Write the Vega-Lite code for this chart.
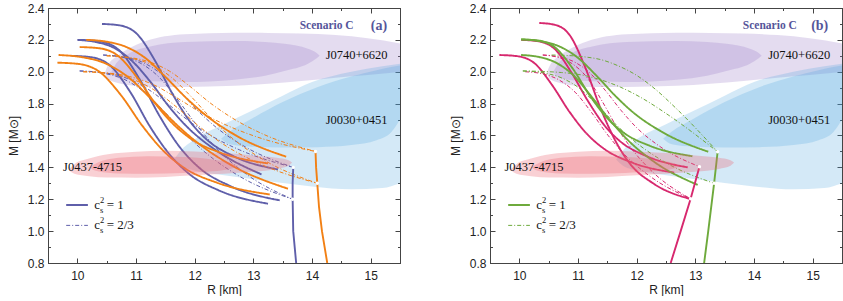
{
"$schema":"https://vega.github.io/schema/vega-lite/v6.json",
"background":"white",
"padding":{"left":6,"top":1,"right":0,"bottom":0},
"bounds":"flush",
"spacing":90,
"config":{"view":{"stroke":"#444","strokeWidth":1},"axis":{"domainColor":"#444","tickColor":"#444","labelFont":"Liberation Sans","labelFontSize":12,"labelColor":"#222","titleFont":"Liberation Sans","titleFontSize":12,"titleFontWeight":"normal","titleColor":"#222","grid":false,"labelFlush":false,"labelOverlap":false,"domainWidth":1,"tickWidth":1}},
"datasets":{
"cur":[
{"p":"a","id":"b1","s":"blue","st":"solid","i":0,"x":10.42,"y":2.3},{"p":"a","id":"b1","s":"blue","st":"solid","i":1,"x":10.72,"y":2.291},{"p":"a","id":"b1","s":"blue","st":"solid","i":2,"x":11.02,"y":2.236},{"p":"a","id":"b1","s":"blue","st":"solid","i":3,"x":11.32,"y":2.072},{"p":"a","id":"b1","s":"blue","st":"solid","i":4,"x":11.62,"y":1.862},{"p":"a","id":"b1","s":"blue","st":"solid","i":5,"x":11.92,"y":1.688},{"p":"a","id":"b1","s":"blue","st":"solid","i":6,"x":12.22,"y":1.57},{"p":"a","id":"b1","s":"blue","st":"solid","i":7,"x":12.67,"y":1.469},{"p":"a","id":"b1","s":"blue","st":"solid","i":8,"x":13.42,"y":1.387},
{"p":"a","id":"b2","s":"blue","st":"solid","i":0,"x":10.0,"y":2.2},{"p":"a","id":"b2","s":"blue","st":"solid","i":1,"x":10.31,"y":2.187},{"p":"a","id":"b2","s":"blue","st":"solid","i":2,"x":10.63,"y":2.149},{"p":"a","id":"b2","s":"blue","st":"solid","i":3,"x":10.94,"y":2.065},{"p":"a","id":"b2","s":"blue","st":"solid","i":4,"x":11.26,"y":1.93},{"p":"a","id":"b2","s":"blue","st":"solid","i":5,"x":11.57,"y":1.778},{"p":"a","id":"b2","s":"blue","st":"solid","i":6,"x":11.88,"y":1.651},{"p":"a","id":"b2","s":"blue","st":"solid","i":7,"x":12.36,"y":1.508},{"p":"a","id":"b2","s":"blue","st":"solid","i":8,"x":13.14,"y":1.356},
{"p":"a","id":"b3","s":"blue","st":"solid","i":0,"x":9.9,"y":2.1},{"p":"a","id":"b3","s":"blue","st":"solid","i":1,"x":10.24,"y":2.091},{"p":"a","id":"b3","s":"blue","st":"solid","i":2,"x":10.57,"y":2.035},{"p":"a","id":"b3","s":"blue","st":"solid","i":3,"x":10.91,"y":1.868},{"p":"a","id":"b3","s":"blue","st":"solid","i":4,"x":11.24,"y":1.655},{"p":"a","id":"b3","s":"blue","st":"solid","i":5,"x":11.58,"y":1.478},{"p":"a","id":"b3","s":"blue","st":"solid","i":6,"x":11.91,"y":1.358},{"p":"a","id":"b3","s":"blue","st":"solid","i":7,"x":12.41,"y":1.256},{"p":"a","id":"b3","s":"blue","st":"solid","i":8,"x":13.25,"y":1.172},
{"p":"a","id":"b4","s":"blue","st":"solid","i":0,"x":10.05,"y":2.2},{"p":"a","id":"b4","s":"blue","st":"solid","i":1,"x":10.39,"y":2.19},{"p":"a","id":"b4","s":"blue","st":"solid","i":2,"x":10.73,"y":2.129},{"p":"a","id":"b4","s":"blue","st":"solid","i":3,"x":11.07,"y":1.948},{"p":"a","id":"b4","s":"blue","st":"solid","i":4,"x":11.41,"y":1.717},{"p":"a","id":"b4","s":"blue","st":"solid","i":5,"x":11.75,"y":1.525},{"p":"a","id":"b4","s":"blue","st":"solid","i":6,"x":12.09,"y":1.394},{"p":"a","id":"b4","s":"blue","st":"solid","i":7,"x":12.6,"y":1.284},{"p":"a","id":"b4","s":"blue","st":"solid","i":8,"x":13.45,"y":1.193},
{"p":"a","id":"bd1","s":"blue","st":"dash","i":0,"x":10.44,"y":2.105},{"p":"a","id":"bd1","s":"blue","st":"dash","i":1,"x":10.76,"y":2.094},{"p":"a","id":"bd1","s":"blue","st":"dash","i":2,"x":11.09,"y":2.063},{"p":"a","id":"bd1","s":"blue","st":"dash","i":3,"x":11.41,"y":1.992},{"p":"a","id":"bd1","s":"blue","st":"dash","i":4,"x":11.74,"y":1.879},{"p":"a","id":"bd1","s":"blue","st":"dash","i":5,"x":12.06,"y":1.753},{"p":"a","id":"bd1","s":"blue","st":"dash","i":6,"x":12.38,"y":1.647},{"p":"a","id":"bd1","s":"blue","st":"dash","i":7,"x":12.87,"y":1.527},{"p":"a","id":"bd1","s":"blue","st":"dash","i":8,"x":13.68,"y":1.4},
{"p":"a","id":"bd2","s":"blue","st":"dash","i":0,"x":10.04,"y":2.005},{"p":"a","id":"bd2","s":"blue","st":"dash","i":1,"x":10.4,"y":1.993},{"p":"a","id":"bd2","s":"blue","st":"dash","i":2,"x":10.77,"y":1.957},{"p":"a","id":"bd2","s":"blue","st":"dash","i":3,"x":11.13,"y":1.876},{"p":"a","id":"bd2","s":"blue","st":"dash","i":4,"x":11.49,"y":1.747},{"p":"a","id":"bd2","s":"blue","st":"dash","i":5,"x":11.86,"y":1.603},{"p":"a","id":"bd2","s":"blue","st":"dash","i":6,"x":12.22,"y":1.482},{"p":"a","id":"bd2","s":"blue","st":"dash","i":7,"x":12.76,"y":1.345},{"p":"a","id":"bd2","s":"blue","st":"dash","i":8,"x":13.67,"y":1.2},
{"p":"a","id":"bd3","s":"blue","st":"dash","i":0,"x":10.04,"y":2.005},{"p":"a","id":"bd3","s":"blue","st":"dash","i":1,"x":10.4,"y":1.996},{"p":"a","id":"bd3","s":"blue","st":"dash","i":2,"x":10.77,"y":1.969},{"p":"a","id":"bd3","s":"blue","st":"dash","i":3,"x":11.13,"y":1.908},{"p":"a","id":"bd3","s":"blue","st":"dash","i":4,"x":11.5,"y":1.811},{"p":"a","id":"bd3","s":"blue","st":"dash","i":5,"x":11.86,"y":1.703},{"p":"a","id":"bd3","s":"blue","st":"dash","i":6,"x":12.22,"y":1.612},{"p":"a","id":"bd3","s":"blue","st":"dash","i":7,"x":12.77,"y":1.509},{"p":"a","id":"bd3","s":"blue","st":"dash","i":8,"x":13.68,"y":1.4},
{"p":"a","id":"bd4","s":"blue","st":"dash","i":0,"x":10.44,"y":2.105},{"p":"a","id":"bd4","s":"blue","st":"dash","i":1,"x":10.76,"y":2.091},{"p":"a","id":"bd4","s":"blue","st":"dash","i":2,"x":11.09,"y":2.051},{"p":"a","id":"bd4","s":"blue","st":"dash","i":3,"x":11.41,"y":1.96},{"p":"a","id":"bd4","s":"blue","st":"dash","i":4,"x":11.73,"y":1.815},{"p":"a","id":"bd4","s":"blue","st":"dash","i":5,"x":12.06,"y":1.653},{"p":"a","id":"bd4","s":"blue","st":"dash","i":6,"x":12.38,"y":1.517},{"p":"a","id":"bd4","s":"blue","st":"dash","i":7,"x":12.86,"y":1.363},{"p":"a","id":"bd4","s":"blue","st":"dash","i":8,"x":13.67,"y":1.2},
{"p":"a","id":"o1","s":"orange","st":"solid","i":0,"x":10.15,"y":2.2},{"p":"a","id":"o1","s":"orange","st":"solid","i":1,"x":10.49,"y":2.189},{"p":"a","id":"o1","s":"orange","st":"solid","i":2,"x":10.83,"y":2.156},{"p":"a","id":"o1","s":"orange","st":"solid","i":3,"x":11.17,"y":2.083},{"p":"a","id":"o1","s":"orange","st":"solid","i":4,"x":11.51,"y":1.965},{"p":"a","id":"o1","s":"orange","st":"solid","i":5,"x":11.86,"y":1.834},{"p":"a","id":"o1","s":"orange","st":"solid","i":6,"x":12.2,"y":1.724},{"p":"a","id":"o1","s":"orange","st":"solid","i":7,"x":12.71,"y":1.599},{"p":"a","id":"o1","s":"orange","st":"solid","i":8,"x":13.56,"y":1.467},
{"p":"a","id":"o2","s":"orange","st":"solid","i":0,"x":10.04,"y":2.155},{"p":"a","id":"o2","s":"orange","st":"solid","i":1,"x":10.36,"y":2.148},{"p":"a","id":"o2","s":"orange","st":"solid","i":2,"x":10.68,"y":2.104},{"p":"a","id":"o2","s":"orange","st":"solid","i":3,"x":11.0,"y":1.973},{"p":"a","id":"o2","s":"orange","st":"solid","i":4,"x":11.32,"y":1.805},{"p":"a","id":"o2","s":"orange","st":"solid","i":5,"x":11.65,"y":1.666},{"p":"a","id":"o2","s":"orange","st":"solid","i":6,"x":11.97,"y":1.571},{"p":"a","id":"o2","s":"orange","st":"solid","i":7,"x":12.45,"y":1.491},{"p":"a","id":"o2","s":"orange","st":"solid","i":8,"x":13.25,"y":1.425},
{"p":"a","id":"o3","s":"orange","st":"solid","i":0,"x":9.68,"y":2.105},{"p":"a","id":"o3","s":"orange","st":"solid","i":1,"x":10.07,"y":2.092},{"p":"a","id":"o3","s":"orange","st":"solid","i":2,"x":10.46,"y":2.055},{"p":"a","id":"o3","s":"orange","st":"solid","i":3,"x":10.85,"y":1.971},{"p":"a","id":"o3","s":"orange","st":"solid","i":4,"x":11.24,"y":1.837},{"p":"a","id":"o3","s":"orange","st":"solid","i":5,"x":11.64,"y":1.686},{"p":"a","id":"o3","s":"orange","st":"solid","i":6,"x":12.03,"y":1.56},{"p":"a","id":"o3","s":"orange","st":"solid","i":7,"x":12.61,"y":1.417},{"p":"a","id":"o3","s":"orange","st":"solid","i":8,"x":13.59,"y":1.266},
{"p":"a","id":"o4","s":"orange","st":"solid","i":0,"x":9.66,"y":2.057},{"p":"a","id":"o4","s":"orange","st":"solid","i":1,"x":10.02,"y":2.049},{"p":"a","id":"o4","s":"orange","st":"solid","i":2,"x":10.38,"y":1.999},{"p":"a","id":"o4","s":"orange","st":"solid","i":3,"x":10.75,"y":1.85},{"p":"a","id":"o4","s":"orange","st":"solid","i":4,"x":11.11,"y":1.66},{"p":"a","id":"o4","s":"orange","st":"solid","i":5,"x":11.47,"y":1.503},{"p":"a","id":"o4","s":"orange","st":"solid","i":6,"x":11.83,"y":1.395},{"p":"a","id":"o4","s":"orange","st":"solid","i":7,"x":12.38,"y":1.304},{"p":"a","id":"o4","s":"orange","st":"solid","i":8,"x":13.28,"y":1.23},
{"p":"a","id":"od1","s":"orange","st":"dash","i":0,"x":10.5,"y":2.1},{"p":"a","id":"od1","s":"orange","st":"dash","i":1,"x":10.86,"y":2.091},{"p":"a","id":"od1","s":"orange","st":"dash","i":2,"x":11.21,"y":2.064},{"p":"a","id":"od1","s":"orange","st":"dash","i":3,"x":11.57,"y":2.004},{"p":"a","id":"od1","s":"orange","st":"dash","i":4,"x":11.92,"y":1.908},{"p":"a","id":"od1","s":"orange","st":"dash","i":5,"x":12.28,"y":1.8},{"p":"a","id":"od1","s":"orange","st":"dash","i":6,"x":12.64,"y":1.71},{"p":"a","id":"od1","s":"orange","st":"dash","i":7,"x":13.17,"y":1.608},{"p":"a","id":"od1","s":"orange","st":"dash","i":8,"x":14.06,"y":1.5},
{"p":"a","id":"od2","s":"orange","st":"dash","i":0,"x":10.1,"y":2.0},{"p":"a","id":"od2","s":"orange","st":"dash","i":1,"x":10.5,"y":1.99},{"p":"a","id":"od2","s":"orange","st":"dash","i":2,"x":10.9,"y":1.958},{"p":"a","id":"od2","s":"orange","st":"dash","i":3,"x":11.3,"y":1.888},{"p":"a","id":"od2","s":"orange","st":"dash","i":4,"x":11.7,"y":1.776},{"p":"a","id":"od2","s":"orange","st":"dash","i":5,"x":12.1,"y":1.65},{"p":"a","id":"od2","s":"orange","st":"dash","i":6,"x":12.49,"y":1.545},{"p":"a","id":"od2","s":"orange","st":"dash","i":7,"x":13.09,"y":1.426},{"p":"a","id":"od2","s":"orange","st":"dash","i":8,"x":14.09,"y":1.3},
{"p":"a","id":"od3","s":"orange","st":"dash","i":0,"x":10.5,"y":2.1},{"p":"a","id":"od3","s":"orange","st":"dash","i":1,"x":10.86,"y":2.088},{"p":"a","id":"od3","s":"orange","st":"dash","i":2,"x":11.22,"y":2.052},{"p":"a","id":"od3","s":"orange","st":"dash","i":3,"x":11.58,"y":1.972},{"p":"a","id":"od3","s":"orange","st":"dash","i":4,"x":11.94,"y":1.844},{"p":"a","id":"od3","s":"orange","st":"dash","i":5,"x":12.3,"y":1.7},{"p":"a","id":"od3","s":"orange","st":"dash","i":6,"x":12.65,"y":1.58},{"p":"a","id":"od3","s":"orange","st":"dash","i":7,"x":13.19,"y":1.444},{"p":"a","id":"od3","s":"orange","st":"dash","i":8,"x":14.09,"y":1.3},
{"p":"a","id":"od4","s":"orange","st":"dash","i":0,"x":10.1,"y":2.0},{"p":"a","id":"od4","s":"orange","st":"dash","i":1,"x":10.5,"y":1.993},{"p":"a","id":"od4","s":"orange","st":"dash","i":2,"x":10.89,"y":1.97},{"p":"a","id":"od4","s":"orange","st":"dash","i":3,"x":11.29,"y":1.92},{"p":"a","id":"od4","s":"orange","st":"dash","i":4,"x":11.68,"y":1.84},{"p":"a","id":"od4","s":"orange","st":"dash","i":5,"x":12.08,"y":1.75},{"p":"a","id":"od4","s":"orange","st":"dash","i":6,"x":12.48,"y":1.675},{"p":"a","id":"od4","s":"orange","st":"dash","i":7,"x":13.07,"y":1.59},{"p":"a","id":"od4","s":"orange","st":"dash","i":8,"x":14.06,"y":1.5},
{"p":"a","id":"L1","s":"blue","st":"solid","i":0,"x":9.81,"y":1.164},{"p":"a","id":"L1","s":"blue","st":"solid","i":1,"x":10.18,"y":1.164},
{"p":"a","id":"L2","s":"blue","st":"dash","i":0,"x":9.81,"y":1.036},{"p":"a","id":"L2","s":"blue","st":"dash","i":1,"x":10.18,"y":1.036},
{"p":"b","id":"m1","s":"magenta","st":"solid","i":0,"x":10.34,"y":2.306},{"p":"b","id":"m1","s":"magenta","st":"solid","i":1,"x":10.6,"y":2.295},{"p":"b","id":"m1","s":"magenta","st":"solid","i":2,"x":10.86,"y":2.229},{"p":"b","id":"m1","s":"magenta","st":"solid","i":3,"x":11.12,"y":2.03},{"p":"b","id":"m1","s":"magenta","st":"solid","i":4,"x":11.38,"y":1.775},{"p":"b","id":"m1","s":"magenta","st":"solid","i":5,"x":11.64,"y":1.565},{"p":"b","id":"m1","s":"magenta","st":"solid","i":6,"x":11.89,"y":1.421},{"p":"b","id":"m1","s":"magenta","st":"solid","i":7,"x":12.28,"y":1.3},{"p":"b","id":"m1","s":"magenta","st":"solid","i":8,"x":12.93,"y":1.2},
{"p":"b","id":"m2","s":"magenta","st":"solid","i":0,"x":9.66,"y":2.105},{"p":"b","id":"m2","s":"magenta","st":"solid","i":1,"x":9.96,"y":2.098},{"p":"b","id":"m2","s":"magenta","st":"solid","i":2,"x":10.26,"y":2.053},{"p":"b","id":"m2","s":"magenta","st":"solid","i":3,"x":10.55,"y":1.921},{"p":"b","id":"m2","s":"magenta","st":"solid","i":4,"x":10.85,"y":1.751},{"p":"b","id":"m2","s":"magenta","st":"solid","i":5,"x":11.15,"y":1.611},{"p":"b","id":"m2","s":"magenta","st":"solid","i":6,"x":11.45,"y":1.515},{"p":"b","id":"m2","s":"magenta","st":"solid","i":7,"x":11.9,"y":1.433},{"p":"b","id":"m2","s":"magenta","st":"solid","i":8,"x":12.64,"y":1.367},
{"p":"b","id":"m3","s":"magenta","st":"solid","i":0,"x":10.03,"y":2.2},{"p":"b","id":"m3","s":"magenta","st":"solid","i":1,"x":10.31,"y":2.192},{"p":"b","id":"m3","s":"magenta","st":"solid","i":2,"x":10.6,"y":2.144},{"p":"b","id":"m3","s":"magenta","st":"solid","i":3,"x":10.88,"y":2.0},{"p":"b","id":"m3","s":"magenta","st":"solid","i":4,"x":11.17,"y":1.816},{"p":"b","id":"m3","s":"magenta","st":"solid","i":5,"x":11.45,"y":1.664},{"p":"b","id":"m3","s":"magenta","st":"solid","i":6,"x":11.73,"y":1.56},{"p":"b","id":"m3","s":"magenta","st":"solid","i":7,"x":12.16,"y":1.472},{"p":"b","id":"m3","s":"magenta","st":"solid","i":8,"x":12.87,"y":1.4},
{"p":"b","id":"md1","s":"magenta","st":"dash","i":0,"x":10.4,"y":2.105},{"p":"b","id":"md1","s":"magenta","st":"dash","i":1,"x":10.67,"y":2.094},{"p":"b","id":"md1","s":"magenta","st":"dash","i":2,"x":10.93,"y":2.063},{"p":"b","id":"md1","s":"magenta","st":"dash","i":3,"x":11.2,"y":1.993},{"p":"b","id":"md1","s":"magenta","st":"dash","i":4,"x":11.47,"y":1.881},{"p":"b","id":"md1","s":"magenta","st":"dash","i":5,"x":11.74,"y":1.755},{"p":"b","id":"md1","s":"magenta","st":"dash","i":6,"x":12.0,"y":1.649},{"p":"b","id":"md1","s":"magenta","st":"dash","i":7,"x":12.4,"y":1.53},{"p":"b","id":"md1","s":"magenta","st":"dash","i":8,"x":13.07,"y":1.404},
{"p":"b","id":"md2","s":"magenta","st":"dash","i":0,"x":10.1,"y":2.0},{"p":"b","id":"md2","s":"magenta","st":"dash","i":1,"x":10.38,"y":1.988},{"p":"b","id":"md2","s":"magenta","st":"dash","i":2,"x":10.66,"y":1.952},{"p":"b","id":"md2","s":"magenta","st":"dash","i":3,"x":10.95,"y":1.872},{"p":"b","id":"md2","s":"magenta","st":"dash","i":4,"x":11.23,"y":1.745},{"p":"b","id":"md2","s":"magenta","st":"dash","i":5,"x":11.51,"y":1.602},{"p":"b","id":"md2","s":"magenta","st":"dash","i":6,"x":11.79,"y":1.482},{"p":"b","id":"md2","s":"magenta","st":"dash","i":7,"x":12.22,"y":1.346},{"p":"b","id":"md2","s":"magenta","st":"dash","i":8,"x":12.92,"y":1.203},
{"p":"b","id":"md3","s":"magenta","st":"dash","i":0,"x":10.4,"y":2.105},{"p":"b","id":"md3","s":"magenta","st":"dash","i":1,"x":10.65,"y":2.091},{"p":"b","id":"md3","s":"magenta","st":"dash","i":2,"x":10.9,"y":2.051},{"p":"b","id":"md3","s":"magenta","st":"dash","i":3,"x":11.16,"y":1.961},{"p":"b","id":"md3","s":"magenta","st":"dash","i":4,"x":11.41,"y":1.816},{"p":"b","id":"md3","s":"magenta","st":"dash","i":5,"x":11.66,"y":1.654},{"p":"b","id":"md3","s":"magenta","st":"dash","i":6,"x":11.91,"y":1.519},{"p":"b","id":"md3","s":"magenta","st":"dash","i":7,"x":12.29,"y":1.365},{"p":"b","id":"md3","s":"magenta","st":"dash","i":8,"x":12.92,"y":1.203},
{"p":"b","id":"g1","s":"green","st":"solid","i":0,"x":10.03,"y":2.203},{"p":"b","id":"g1","s":"green","st":"solid","i":1,"x":10.35,"y":2.192},{"p":"b","id":"g1","s":"green","st":"solid","i":2,"x":10.67,"y":2.161},{"p":"b","id":"g1","s":"green","st":"solid","i":3,"x":10.99,"y":2.09},{"p":"b","id":"g1","s":"green","st":"solid","i":4,"x":11.31,"y":1.977},{"p":"b","id":"g1","s":"green","st":"solid","i":5,"x":11.63,"y":1.851},{"p":"b","id":"g1","s":"green","st":"solid","i":6,"x":11.94,"y":1.745},{"p":"b","id":"g1","s":"green","st":"solid","i":7,"x":12.42,"y":1.625},{"p":"b","id":"g1","s":"green","st":"solid","i":8,"x":13.22,"y":1.498},
{"p":"b","id":"g2","s":"green","st":"solid","i":0,"x":10.03,"y":2.203},{"p":"b","id":"g2","s":"green","st":"solid","i":1,"x":10.32,"y":2.196},{"p":"b","id":"g2","s":"green","st":"solid","i":2,"x":10.61,"y":2.152},{"p":"b","id":"g2","s":"green","st":"solid","i":3,"x":10.91,"y":2.02},{"p":"b","id":"g2","s":"green","st":"solid","i":4,"x":11.2,"y":1.851},{"p":"b","id":"g2","s":"green","st":"solid","i":5,"x":11.49,"y":1.712},{"p":"b","id":"g2","s":"green","st":"solid","i":6,"x":11.78,"y":1.617},{"p":"b","id":"g2","s":"green","st":"solid","i":7,"x":12.22,"y":1.536},{"p":"b","id":"g2","s":"green","st":"solid","i":8,"x":12.95,"y":1.47},
{"p":"b","id":"g3","s":"green","st":"solid","i":0,"x":10.03,"y":2.105},{"p":"b","id":"g3","s":"green","st":"solid","i":1,"x":10.33,"y":2.093},{"p":"b","id":"g3","s":"green","st":"solid","i":2,"x":10.63,"y":2.056},{"p":"b","id":"g3","s":"green","st":"solid","i":3,"x":10.93,"y":1.975},{"p":"b","id":"g3","s":"green","st":"solid","i":4,"x":11.23,"y":1.844},{"p":"b","id":"g3","s":"green","st":"solid","i":5,"x":11.54,"y":1.698},{"p":"b","id":"g3","s":"green","st":"solid","i":6,"x":11.84,"y":1.575},{"p":"b","id":"g3","s":"green","st":"solid","i":7,"x":12.29,"y":1.437},{"p":"b","id":"g3","s":"green","st":"solid","i":8,"x":13.04,"y":1.29},
{"p":"b","id":"gd1","s":"green","st":"dash","i":0,"x":10.55,"y":2.105},{"p":"b","id":"gd1","s":"green","st":"dash","i":1,"x":10.83,"y":2.102},{"p":"b","id":"gd1","s":"green","st":"dash","i":2,"x":11.12,"y":2.093},{"p":"b","id":"gd1","s":"green","st":"dash","i":3,"x":11.4,"y":2.075},{"p":"b","id":"gd1","s":"green","st":"dash","i":4,"x":11.68,"y":2.038},{"p":"b","id":"gd1","s":"green","st":"dash","i":5,"x":11.97,"y":1.984},{"p":"b","id":"gd1","s":"green","st":"dash","i":6,"x":12.25,"y":1.911},{"p":"b","id":"gd1","s":"green","st":"dash","i":7,"x":12.67,"y":1.771},{"p":"b","id":"gd1","s":"green","st":"dash","i":8,"x":13.38,"y":1.498},
{"p":"b","id":"gd2","s":"green","st":"dash","i":0,"x":10.06,"y":2.005},{"p":"b","id":"gd2","s":"green","st":"dash","i":1,"x":10.39,"y":1.994},{"p":"b","id":"gd2","s":"green","st":"dash","i":2,"x":10.71,"y":1.963},{"p":"b","id":"gd2","s":"green","st":"dash","i":3,"x":11.04,"y":1.892},{"p":"b","id":"gd2","s":"green","st":"dash","i":4,"x":11.36,"y":1.779},{"p":"b","id":"gd2","s":"green","st":"dash","i":5,"x":11.69,"y":1.653},{"p":"b","id":"gd2","s":"green","st":"dash","i":6,"x":12.02,"y":1.547},{"p":"b","id":"gd2","s":"green","st":"dash","i":7,"x":12.51,"y":1.427},{"p":"b","id":"gd2","s":"green","st":"dash","i":8,"x":13.32,"y":1.3},
{"p":"b","id":"gd3","s":"green","st":"dash","i":0,"x":10.06,"y":2.005},{"p":"b","id":"gd3","s":"green","st":"dash","i":1,"x":10.39,"y":2.002},{"p":"b","id":"gd3","s":"green","st":"dash","i":2,"x":10.72,"y":1.995},{"p":"b","id":"gd3","s":"green","st":"dash","i":3,"x":11.06,"y":1.98},{"p":"b","id":"gd3","s":"green","st":"dash","i":4,"x":11.39,"y":1.949},{"p":"b","id":"gd3","s":"green","st":"dash","i":5,"x":11.72,"y":1.904},{"p":"b","id":"gd3","s":"green","st":"dash","i":6,"x":12.05,"y":1.843},{"p":"b","id":"gd3","s":"green","st":"dash","i":7,"x":12.55,"y":1.726},{"p":"b","id":"gd3","s":"green","st":"dash","i":8,"x":13.38,"y":1.498},
{"p":"b","id":"L1","s":"green","st":"solid","i":0,"x":9.81,"y":1.164},{"p":"b","id":"L1","s":"green","st":"solid","i":1,"x":10.18,"y":1.164},
{"p":"b","id":"L2","s":"green","st":"dash","i":0,"x":9.81,"y":1.036},{"p":"b","id":"L2","s":"green","st":"dash","i":1,"x":10.18,"y":1.036}
],
"vert":[
{"p":"a","id":"bv","s":"blue","i":0,"x":13.68,"y":1.4},{"p":"a","id":"bv","s":"blue","i":1,"x":13.67,"y":1.3},{"p":"a","id":"bv","s":"blue","i":2,"x":13.67,"y":1.2},{"p":"a","id":"bv","s":"blue","i":3,"x":13.68,"y":1.0},{"p":"a","id":"bv","s":"blue","i":4,"x":13.705,"y":0.9},{"p":"a","id":"bv","s":"blue","i":5,"x":13.73,"y":0.8},
{"p":"a","id":"ov","s":"orange","i":0,"x":14.06,"y":1.5},{"p":"a","id":"ov","s":"orange","i":1,"x":14.07,"y":1.4},{"p":"a","id":"ov","s":"orange","i":2,"x":14.09,"y":1.3},{"p":"a","id":"ov","s":"orange","i":3,"x":14.12,"y":1.15},{"p":"a","id":"ov","s":"orange","i":4,"x":14.17,"y":1.0},{"p":"a","id":"ov","s":"orange","i":5,"x":14.26,"y":0.8},
{"p":"b","id":"mv","s":"magenta","i":0,"x":13.07,"y":1.404},{"p":"b","id":"mv","s":"magenta","i":1,"x":12.92,"y":1.203},{"p":"b","id":"mv","s":"magenta","i":2,"x":12.75,"y":1.0},{"p":"b","id":"mv","s":"magenta","i":3,"x":12.58,"y":0.8},
{"p":"b","id":"gv","s":"green","i":0,"x":13.38,"y":1.498},{"p":"b","id":"gv","s":"green","i":1,"x":13.32,"y":1.3},{"p":"b","id":"gv","s":"green","i":2,"x":13.22,"y":1.0},{"p":"b","id":"gv","s":"green","i":3,"x":13.15,"y":0.8}
],
"dots":[
{"p":"a","x":13.68,"y":1.4},{"p":"a","x":13.67,"y":1.2},{"p":"a","x":14.06,"y":1.5},{"p":"a","x":14.09,"y":1.3},
{"p":"b","x":13.07,"y":1.404},{"p":"b","x":12.92,"y":1.203},{"p":"b","x":13.38,"y":1.498},{"p":"b","x":13.32,"y":1.3}
],
"frame":[{"x":9.5,"y":0.8}],
"reg":[
{"k":"J0740","lv":"o","x":10.47,"lo":1.994,"hi":1.994},{"k":"J0740","lv":"o","x":10.52,"lo":1.955,"hi":2.04},{"k":"J0740","lv":"o","x":10.69,"lo":1.93,"hi":2.1},{"k":"J0740","lv":"o","x":10.9,"lo":1.915,"hi":2.15},{"k":"J0740","lv":"o","x":11.15,"lo":1.905,"hi":2.19},{"k":"J0740","lv":"o","x":11.83,"lo":1.905,"hi":2.235},{"k":"J0740","lv":"o","x":12.68,"lo":1.912,"hi":2.245},{"k":"J0740","lv":"o","x":13.25,"lo":1.925,"hi":2.243},{"k":"J0740","lv":"o","x":13.82,"lo":1.942,"hi":2.24},{"k":"J0740","lv":"o","x":14.4,"lo":1.963,"hi":2.23},{"k":"J0740","lv":"o","x":14.95,"lo":1.98,"hi":2.21},{"k":"J0740","lv":"o","x":15.5,"lo":1.998,"hi":2.178},
{"k":"J0740","lv":"i","x":10.58,"lo":2.0,"hi":2.0},{"k":"J0740","lv":"i","x":10.64,"lo":1.97,"hi":2.04},{"k":"J0740","lv":"i","x":10.86,"lo":1.948,"hi":2.11},{"k":"J0740","lv":"i","x":11.26,"lo":1.94,"hi":2.16},{"k":"J0740","lv":"i","x":11.83,"lo":1.935,"hi":2.187},{"k":"J0740","lv":"i","x":12.68,"lo":1.95,"hi":2.193},{"k":"J0740","lv":"i","x":13.2,"lo":1.975,"hi":2.187},{"k":"J0740","lv":"i","x":13.53,"lo":2.005,"hi":2.176},{"k":"J0740","lv":"i","x":13.93,"lo":2.05,"hi":2.145},{"k":"J0740","lv":"i","x":14.08,"lo":2.085,"hi":2.118},{"k":"J0740","lv":"i","x":14.13,"lo":2.1,"hi":2.1},
{"k":"J0030","lv":"o","x":11.65,"lo":1.45,"hi":1.45},{"k":"J0030","lv":"o","x":11.75,"lo":1.415,"hi":1.5},{"k":"J0030","lv":"o","x":12.0,"lo":1.38,"hi":1.575},{"k":"J0030","lv":"o","x":12.5,"lo":1.35,"hi":1.67},{"k":"J0030","lv":"o","x":13.0,"lo":1.325,"hi":1.76},{"k":"J0030","lv":"o","x":13.5,"lo":1.302,"hi":1.85},{"k":"J0030","lv":"o","x":14.0,"lo":1.28,"hi":1.935},{"k":"J0030","lv":"o","x":14.67,"lo":1.262,"hi":2.0},{"k":"J0030","lv":"o","x":15.2,"lo":1.27,"hi":2.035},{"k":"J0030","lv":"o","x":15.5,"lo":1.3,"hi":2.05},
{"k":"J0030","lv":"i","x":12.45,"lo":1.58,"hi":1.58},{"k":"J0030","lv":"i","x":12.6,"lo":1.545,"hi":1.625},{"k":"J0030","lv":"i","x":12.97,"lo":1.53,"hi":1.705},{"k":"J0030","lv":"i","x":13.5,"lo":1.525,"hi":1.81},{"k":"J0030","lv":"i","x":14.1,"lo":1.527,"hi":1.905},{"k":"J0030","lv":"i","x":14.67,"lo":1.54,"hi":1.97},{"k":"J0030","lv":"i","x":15.1,"lo":1.57,"hi":2.01},{"k":"J0030","lv":"i","x":15.35,"lo":1.62,"hi":2.03},{"k":"J0030","lv":"i","x":15.5,"lo":1.7,"hi":2.04},
{"k":"J0437","lv":"o","x":9.85,"lo":1.385,"hi":1.385},{"k":"J0437","lv":"o","x":9.95,"lo":1.36,"hi":1.42},{"k":"J0437","lv":"o","x":10.2,"lo":1.345,"hi":1.455},{"k":"J0437","lv":"o","x":10.52,"lo":1.336,"hi":1.482},{"k":"J0437","lv":"o","x":11.0,"lo":1.335,"hi":1.498},{"k":"J0437","lv":"o","x":11.5,"lo":1.34,"hi":1.505},{"k":"J0437","lv":"o","x":12.0,"lo":1.35,"hi":1.5},{"k":"J0437","lv":"o","x":12.5,"lo":1.36,"hi":1.49},{"k":"J0437","lv":"o","x":13.0,"lo":1.372,"hi":1.475},{"k":"J0437","lv":"o","x":13.4,"lo":1.39,"hi":1.46},{"k":"J0437","lv":"o","x":13.6,"lo":1.41,"hi":1.445},{"k":"J0437","lv":"o","x":13.66,"lo":1.43,"hi":1.43},
{"k":"J0437","lv":"i","x":10.2,"lo":1.4,"hi":1.4},{"k":"J0437","lv":"i","x":10.35,"lo":1.375,"hi":1.43},{"k":"J0437","lv":"i","x":10.7,"lo":1.362,"hi":1.46},{"k":"J0437","lv":"i","x":11.2,"lo":1.36,"hi":1.47},{"k":"J0437","lv":"i","x":11.8,"lo":1.365,"hi":1.465},{"k":"J0437","lv":"i","x":12.3,"lo":1.375,"hi":1.45},{"k":"J0437","lv":"i","x":12.65,"lo":1.395,"hi":1.425},{"k":"J0437","lv":"i","x":12.75,"lo":1.41,"hi":1.41}
],
"txt":[
{"p":"a","k":"pul","t":"J0740+6620","x":14.76,"y":2.103},{"p":"a","k":"pul","t":"J0030+0451","x":14.76,"y":1.7},{"p":"a","k":"pul","t":"J0437-4715","x":10.26,"y":1.4},
{"p":"b","k":"pul","t":"J0740+6620","x":14.77,"y":2.103},{"p":"b","k":"pul","t":"J0030+0451","x":14.77,"y":1.7},{"p":"b","k":"pul","t":"J0437-4715","x":10.25,"y":1.4},
{"p":"a","k":"sc","t":"Scenario C","x":14.25,"y":2.29},{"p":"b","k":"sc","t":"Scenario C","x":14.27,"y":2.29},
{"p":"a","k":"pl","t":"(a)","x":15.14,"y":2.29},{"p":"b","k":"pl","t":"(b)","x":15.12,"y":2.29},
{"p":"a","k":"c","t":"c","x":10.29,"y":1.162},{"p":"a","k":"c","t":"c","x":10.29,"y":1.036},
{"p":"b","k":"c","t":"c","x":10.29,"y":1.162},{"p":"b","k":"c","t":"c","x":10.29,"y":1.036},
{"p":"a","k":"sup","t":"2","x":10.385,"y":1.162},{"p":"a","k":"sup","t":"2","x":10.385,"y":1.036},
{"p":"b","k":"sup","t":"2","x":10.385,"y":1.162},{"p":"b","k":"sup","t":"2","x":10.385,"y":1.036},
{"p":"a","k":"sub","t":"s","x":10.385,"y":1.162},{"p":"a","k":"sub","t":"s","x":10.385,"y":1.036},
{"p":"b","k":"sub","t":"s","x":10.385,"y":1.162},{"p":"b","k":"sub","t":"s","x":10.385,"y":1.036},
{"p":"a","k":"eq","t":"= 1","x":10.5,"y":1.162},{"p":"a","k":"eq","t":"= 2/3","x":10.5,"y":1.036},
{"p":"b","k":"eq","t":"= 1","x":10.5,"y":1.162},{"p":"b","k":"eq","t":"= 2/3","x":10.5,"y":1.036}
]
},
"hconcat":[
{"width":352,"height":255,
"resolve":{"scale":{"x":"independent","y":"independent"}},
"layer":[
{"layer":[
{"data":{"name":"reg"},"transform":[{"filter":"datum.k==='J0740' && datum.lv==='o'"}],"mark":{"type":"area","color":"#9a7fc8","opacity":0.27,"interpolate":"monotone"},
"encoding":{"x":{"field":"x","type":"quantitative","scale":{"domain":[9.5,15.5],"nice":false,"zero":false},"axis":null},"y":{"field":"hi","type":"quantitative","scale":{"domain":[0.8,2.4],"nice":false,"zero":false},"axis":null},"y2":{"field":"lo"}}},
{"data":{"name":"reg"},"transform":[{"filter":"datum.k==='J0740' && datum.lv==='i'"}],"mark":{"type":"area","color":"#9a7fc8","opacity":0.27,"interpolate":"monotone"},
"encoding":{"x":{"field":"x","type":"quantitative","axis":null},"y":{"field":"hi","type":"quantitative","axis":null},"y2":{"field":"lo"}}},
{"data":{"name":"reg"},"transform":[{"filter":"datum.k==='J0030' && datum.lv==='o'"}],"mark":{"type":"area","color":"#4aa3df","opacity":0.24,"interpolate":"monotone"},
"encoding":{"x":{"field":"x","type":"quantitative","axis":null},"y":{"field":"hi","type":"quantitative","axis":null},"y2":{"field":"lo"}}},
{"data":{"name":"reg"},"transform":[{"filter":"datum.k==='J0030' && datum.lv==='i'"}],"mark":{"type":"area","color":"#4aa3df","opacity":0.24,"interpolate":"monotone"},
"encoding":{"x":{"field":"x","type":"quantitative","axis":null},"y":{"field":"hi","type":"quantitative","axis":null},"y2":{"field":"lo"}}},
{"data":{"name":"cur"},"transform":[{"filter":"datum.p==='a'"}],"mark":{"type":"line","interpolate":"monotone","clip":true},
"encoding":{"x":{"field":"x","type":"quantitative","axis":null},"y":{"field":"y","type":"quantitative","axis":null},"detail":{"field":"id"},"order":{"field":"i","type":"quantitative"},
"color":{"field":"s","type":"nominal","scale":{"domain":["blue","orange","magenta","green"],"range":["#5f5faa","#f28014","#d7286e","#6eaa3c"]},"legend":null},
"strokeDash":{"field":"st","type":"nominal","scale":{"domain":["solid","dash"],"range":[[1,0],[4,2,1,2]]},"legend":null},
"strokeWidth":{"field":"st","type":"nominal","scale":{"domain":["solid","dash"],"range":[1.9,1.0]},"legend":null}}},
{"data":{"name":"vert"},"transform":[{"filter":"datum.p==='a'"}],"mark":{"type":"line","interpolate":"linear","strokeWidth":1.9,"clip":true},
"encoding":{"x":{"field":"x","type":"quantitative","axis":null},"y":{"field":"y","type":"quantitative","axis":null},"detail":{"field":"id"},"order":{"field":"i","type":"quantitative"},
"color":{"field":"s","type":"nominal","scale":{"domain":["blue","orange","magenta","green"],"range":["#5f5faa","#f28014","#d7286e","#6eaa3c"]},"legend":null}}},
{"data":{"name":"reg"},"transform":[{"filter":"datum.k==='J0437' && datum.lv==='o'"}],"mark":{"type":"area","color":"#eb6470","opacity":0.3,"interpolate":"monotone"},
"encoding":{"x":{"field":"x","type":"quantitative","axis":null},"y":{"field":"hi","type":"quantitative","axis":null},"y2":{"field":"lo"}}},
{"data":{"name":"reg"},"transform":[{"filter":"datum.k==='J0437' && datum.lv==='i'"}],"mark":{"type":"area","color":"#eb6470","opacity":0.3,"interpolate":"monotone"},
"encoding":{"x":{"field":"x","type":"quantitative","axis":null},"y":{"field":"hi","type":"quantitative","axis":null},"y2":{"field":"lo"}}},
{"data":{"name":"dots"},"transform":[{"filter":"datum.p==='a'"}],"mark":{"type":"point","filled":true,"color":"white","size":12,"opacity":1},
"encoding":{"x":{"field":"x","type":"quantitative","axis":null},"y":{"field":"y","type":"quantitative","axis":null}}},
{"data":{"name":"txt"},"transform":[{"filter":"datum.p==='a' && datum.k==='pul'"}],"mark":{"type":"text","font":"Liberation Serif","fontSize":12.5,"color":"#111"},
"encoding":{"x":{"field":"x","type":"quantitative","axis":null},"y":{"field":"y","type":"quantitative","axis":null},"text":{"field":"t"}}},
{"data":{"name":"txt"},"transform":[{"filter":"datum.p==='a' && datum.k==='sc'"}],"mark":{"type":"text","font":"Liberation Serif","fontSize":11.5,"fontWeight":"bold","color":"#55559a"},
"encoding":{"x":{"field":"x","type":"quantitative","axis":null},"y":{"field":"y","type":"quantitative","axis":null},"text":{"field":"t"}}},
{"data":{"name":"txt"},"transform":[{"filter":"datum.p==='a' && datum.k==='pl'"}],"mark":{"type":"text","font":"Liberation Serif","fontSize":14,"fontWeight":"bold","color":"#55559a"},
"encoding":{"x":{"field":"x","type":"quantitative","axis":null},"y":{"field":"y","type":"quantitative","axis":null},"text":{"field":"t"}}},
{"data":{"name":"txt"},"transform":[{"filter":"datum.p==='a' && (datum.k==='c' || datum.k==='eq')"}],"mark":{"type":"text","font":"Liberation Serif","fontSize":13,"color":"#111","align":"left"},
"encoding":{"x":{"field":"x","type":"quantitative","axis":null},"y":{"field":"y","type":"quantitative","axis":null},"text":{"field":"t"}}},
{"data":{"name":"txt"},"transform":[{"filter":"datum.p==='a' && datum.k==='sup'"}],"mark":{"type":"text","font":"Liberation Serif","fontSize":8.5,"color":"#111","align":"left","dy":-5},
"encoding":{"x":{"field":"x","type":"quantitative","axis":null},"y":{"field":"y","type":"quantitative","axis":null},"text":{"field":"t"}}},
{"data":{"name":"txt"},"transform":[{"filter":"datum.p==='a' && datum.k==='sub'"}],"mark":{"type":"text","font":"Liberation Serif","fontSize":8.5,"color":"#111","align":"left","dy":4.5},
"encoding":{"x":{"field":"x","type":"quantitative","axis":null},"y":{"field":"y","type":"quantitative","axis":null},"text":{"field":"t"}}}
]},
{"data":{"name":"frame"},"mark":{"type":"point","opacity":0},
"encoding":{"x":{"field":"x","type":"quantitative","scale":{"domain":[9.5,15.5],"nice":false,"zero":false},"axis":{"orient":"top","values":[9.5,10,10.5,11,11.5,12,12.5,13,13.5,14,14.5,15,15.5],"labels":false,"title":null,"tickSize":{"condition":{"test":"datum.value % 1 == 0","value":-5},"value":-2.5}}},
"y":{"field":"y","type":"quantitative","scale":{"domain":[0.8,2.4],"nice":false,"zero":false},"axis":{"orient":"right","values":[0.8,0.9,1.0,1.1,1.2,1.3,1.4,1.5,1.6,1.7,1.8,1.9,2.0,2.1,2.2,2.3,2.4],"labels":false,"title":null,"tickSize":{"condition":{"test":"abs(datum.value*5-round(datum.value*5))<0.001","value":-5},"value":-2.5}}}}},
{"data":{"name":"frame"},"mark":{"type":"point","opacity":0},
"encoding":{"x":{"field":"x","type":"quantitative","scale":{"domain":[9.5,15.5],"nice":false,"zero":false},"axis":{"orient":"bottom","values":[9.5,10,10.5,11,11.5,12,12.5,13,13.5,14,14.5,15,15.5],"labels":false,"title":null,"tickSize":{"condition":{"test":"datum.value % 1 == 0","value":-5},"value":-2.5}}},
"y":{"field":"y","type":"quantitative","scale":{"domain":[0.8,2.4],"nice":false,"zero":false},"axis":{"orient":"left","values":[0.8,0.9,1.0,1.1,1.2,1.3,1.4,1.5,1.6,1.7,1.8,1.9,2.0,2.1,2.2,2.3,2.4],"labels":false,"title":null,"tickSize":{"condition":{"test":"abs(datum.value*5-round(datum.value*5))<0.001","value":-5},"value":-2.5}}}}},
{"data":{"name":"frame"},"mark":{"type":"point","opacity":0},
"encoding":{"x":{"field":"x","type":"quantitative","scale":{"domain":[9.5,15.5],"nice":false,"zero":false},"axis":{"orient":"bottom","values":[10,11,12,13,14,15],"format":"d","ticks":false,"domain":false,"labelPadding":7,"title":"R [km]","titlePadding":3}},
"y":{"field":"y","type":"quantitative","scale":{"domain":[0.8,2.4],"nice":false,"zero":false},"axis":{"orient":"left","values":[0.8,1.0,1.2,1.4,1.6,1.8,2.0,2.2,2.4],"format":".1f","ticks":false,"domain":false,"labelPadding":4,"title":"M [M⊙]","titlePadding":7}}}}
]},
{"width":352,"height":255,
"resolve":{"scale":{"x":"independent","y":"independent"}},
"layer":[
{"layer":[
{"data":{"name":"reg"},"transform":[{"filter":"datum.k==='J0740' && datum.lv==='o'"}],"mark":{"type":"area","color":"#9a7fc8","opacity":0.27,"interpolate":"monotone"},
"encoding":{"x":{"field":"x","type":"quantitative","scale":{"domain":[9.5,15.5],"nice":false,"zero":false},"axis":null},"y":{"field":"hi","type":"quantitative","scale":{"domain":[0.8,2.4],"nice":false,"zero":false},"axis":null},"y2":{"field":"lo"}}},
{"data":{"name":"reg"},"transform":[{"filter":"datum.k==='J0740' && datum.lv==='i'"}],"mark":{"type":"area","color":"#9a7fc8","opacity":0.27,"interpolate":"monotone"},
"encoding":{"x":{"field":"x","type":"quantitative","axis":null},"y":{"field":"hi","type":"quantitative","axis":null},"y2":{"field":"lo"}}},
{"data":{"name":"reg"},"transform":[{"filter":"datum.k==='J0030' && datum.lv==='o'"}],"mark":{"type":"area","color":"#4aa3df","opacity":0.24,"interpolate":"monotone"},
"encoding":{"x":{"field":"x","type":"quantitative","axis":null},"y":{"field":"hi","type":"quantitative","axis":null},"y2":{"field":"lo"}}},
{"data":{"name":"reg"},"transform":[{"filter":"datum.k==='J0030' && datum.lv==='i'"}],"mark":{"type":"area","color":"#4aa3df","opacity":0.24,"interpolate":"monotone"},
"encoding":{"x":{"field":"x","type":"quantitative","axis":null},"y":{"field":"hi","type":"quantitative","axis":null},"y2":{"field":"lo"}}},
{"data":{"name":"cur"},"transform":[{"filter":"datum.p==='b'"}],"mark":{"type":"line","interpolate":"monotone","clip":true},
"encoding":{"x":{"field":"x","type":"quantitative","axis":null},"y":{"field":"y","type":"quantitative","axis":null},"detail":{"field":"id"},"order":{"field":"i","type":"quantitative"},
"color":{"field":"s","type":"nominal","scale":{"domain":["blue","orange","magenta","green"],"range":["#5f5faa","#f28014","#d7286e","#6eaa3c"]},"legend":null},
"strokeDash":{"field":"st","type":"nominal","scale":{"domain":["solid","dash"],"range":[[1,0],[4,2,1,2]]},"legend":null},
"strokeWidth":{"field":"st","type":"nominal","scale":{"domain":["solid","dash"],"range":[1.9,1.0]},"legend":null}}},
{"data":{"name":"vert"},"transform":[{"filter":"datum.p==='b'"}],"mark":{"type":"line","interpolate":"linear","strokeWidth":1.9,"clip":true},
"encoding":{"x":{"field":"x","type":"quantitative","axis":null},"y":{"field":"y","type":"quantitative","axis":null},"detail":{"field":"id"},"order":{"field":"i","type":"quantitative"},
"color":{"field":"s","type":"nominal","scale":{"domain":["blue","orange","magenta","green"],"range":["#5f5faa","#f28014","#d7286e","#6eaa3c"]},"legend":null}}},
{"data":{"name":"reg"},"transform":[{"filter":"datum.k==='J0437' && datum.lv==='o'"}],"mark":{"type":"area","color":"#eb6470","opacity":0.3,"interpolate":"monotone"},
"encoding":{"x":{"field":"x","type":"quantitative","axis":null},"y":{"field":"hi","type":"quantitative","axis":null},"y2":{"field":"lo"}}},
{"data":{"name":"reg"},"transform":[{"filter":"datum.k==='J0437' && datum.lv==='i'"}],"mark":{"type":"area","color":"#eb6470","opacity":0.3,"interpolate":"monotone"},
"encoding":{"x":{"field":"x","type":"quantitative","axis":null},"y":{"field":"hi","type":"quantitative","axis":null},"y2":{"field":"lo"}}},
{"data":{"name":"dots"},"transform":[{"filter":"datum.p==='b'"}],"mark":{"type":"point","filled":true,"color":"white","size":12,"opacity":1},
"encoding":{"x":{"field":"x","type":"quantitative","axis":null},"y":{"field":"y","type":"quantitative","axis":null}}},
{"data":{"name":"txt"},"transform":[{"filter":"datum.p==='b' && datum.k==='pul'"}],"mark":{"type":"text","font":"Liberation Serif","fontSize":12.5,"color":"#111"},
"encoding":{"x":{"field":"x","type":"quantitative","axis":null},"y":{"field":"y","type":"quantitative","axis":null},"text":{"field":"t"}}},
{"data":{"name":"txt"},"transform":[{"filter":"datum.p==='b' && datum.k==='sc'"}],"mark":{"type":"text","font":"Liberation Serif","fontSize":11.5,"fontWeight":"bold","color":"#55559a"},
"encoding":{"x":{"field":"x","type":"quantitative","axis":null},"y":{"field":"y","type":"quantitative","axis":null},"text":{"field":"t"}}},
{"data":{"name":"txt"},"transform":[{"filter":"datum.p==='b' && datum.k==='pl'"}],"mark":{"type":"text","font":"Liberation Serif","fontSize":14,"fontWeight":"bold","color":"#55559a"},
"encoding":{"x":{"field":"x","type":"quantitative","axis":null},"y":{"field":"y","type":"quantitative","axis":null},"text":{"field":"t"}}},
{"data":{"name":"txt"},"transform":[{"filter":"datum.p==='b' && (datum.k==='c' || datum.k==='eq')"}],"mark":{"type":"text","font":"Liberation Serif","fontSize":13,"color":"#111","align":"left"},
"encoding":{"x":{"field":"x","type":"quantitative","axis":null},"y":{"field":"y","type":"quantitative","axis":null},"text":{"field":"t"}}},
{"data":{"name":"txt"},"transform":[{"filter":"datum.p==='b' && datum.k==='sup'"}],"mark":{"type":"text","font":"Liberation Serif","fontSize":8.5,"color":"#111","align":"left","dy":-5},
"encoding":{"x":{"field":"x","type":"quantitative","axis":null},"y":{"field":"y","type":"quantitative","axis":null},"text":{"field":"t"}}},
{"data":{"name":"txt"},"transform":[{"filter":"datum.p==='b' && datum.k==='sub'"}],"mark":{"type":"text","font":"Liberation Serif","fontSize":8.5,"color":"#111","align":"left","dy":4.5},
"encoding":{"x":{"field":"x","type":"quantitative","axis":null},"y":{"field":"y","type":"quantitative","axis":null},"text":{"field":"t"}}}
]},
{"data":{"name":"frame"},"mark":{"type":"point","opacity":0},
"encoding":{"x":{"field":"x","type":"quantitative","scale":{"domain":[9.5,15.5],"nice":false,"zero":false},"axis":{"orient":"top","values":[9.5,10,10.5,11,11.5,12,12.5,13,13.5,14,14.5,15,15.5],"labels":false,"title":null,"tickSize":{"condition":{"test":"datum.value % 1 == 0","value":-5},"value":-2.5}}},
"y":{"field":"y","type":"quantitative","scale":{"domain":[0.8,2.4],"nice":false,"zero":false},"axis":{"orient":"right","values":[0.8,0.9,1.0,1.1,1.2,1.3,1.4,1.5,1.6,1.7,1.8,1.9,2.0,2.1,2.2,2.3,2.4],"labels":false,"title":null,"tickSize":{"condition":{"test":"abs(datum.value*5-round(datum.value*5))<0.001","value":-5},"value":-2.5}}}}},
{"data":{"name":"frame"},"mark":{"type":"point","opacity":0},
"encoding":{"x":{"field":"x","type":"quantitative","scale":{"domain":[9.5,15.5],"nice":false,"zero":false},"axis":{"orient":"bottom","values":[9.5,10,10.5,11,11.5,12,12.5,13,13.5,14,14.5,15,15.5],"labels":false,"title":null,"tickSize":{"condition":{"test":"datum.value % 1 == 0","value":-5},"value":-2.5}}},
"y":{"field":"y","type":"quantitative","scale":{"domain":[0.8,2.4],"nice":false,"zero":false},"axis":{"orient":"left","values":[0.8,0.9,1.0,1.1,1.2,1.3,1.4,1.5,1.6,1.7,1.8,1.9,2.0,2.1,2.2,2.3,2.4],"labels":false,"title":null,"tickSize":{"condition":{"test":"abs(datum.value*5-round(datum.value*5))<0.001","value":-5},"value":-2.5}}}}},
{"data":{"name":"frame"},"mark":{"type":"point","opacity":0},
"encoding":{"x":{"field":"x","type":"quantitative","scale":{"domain":[9.5,15.5],"nice":false,"zero":false},"axis":{"orient":"bottom","values":[10,11,12,13,14,15],"format":"d","ticks":false,"domain":false,"labelPadding":7,"title":"R [km]","titlePadding":3}},
"y":{"field":"y","type":"quantitative","scale":{"domain":[0.8,2.4],"nice":false,"zero":false},"axis":{"orient":"left","values":[0.8,1.0,1.2,1.4,1.6,1.8,2.0,2.2,2.4],"format":".1f","ticks":false,"domain":false,"labelPadding":4,"title":"M [M⊙]","titlePadding":7}}}}
]}
]
}
